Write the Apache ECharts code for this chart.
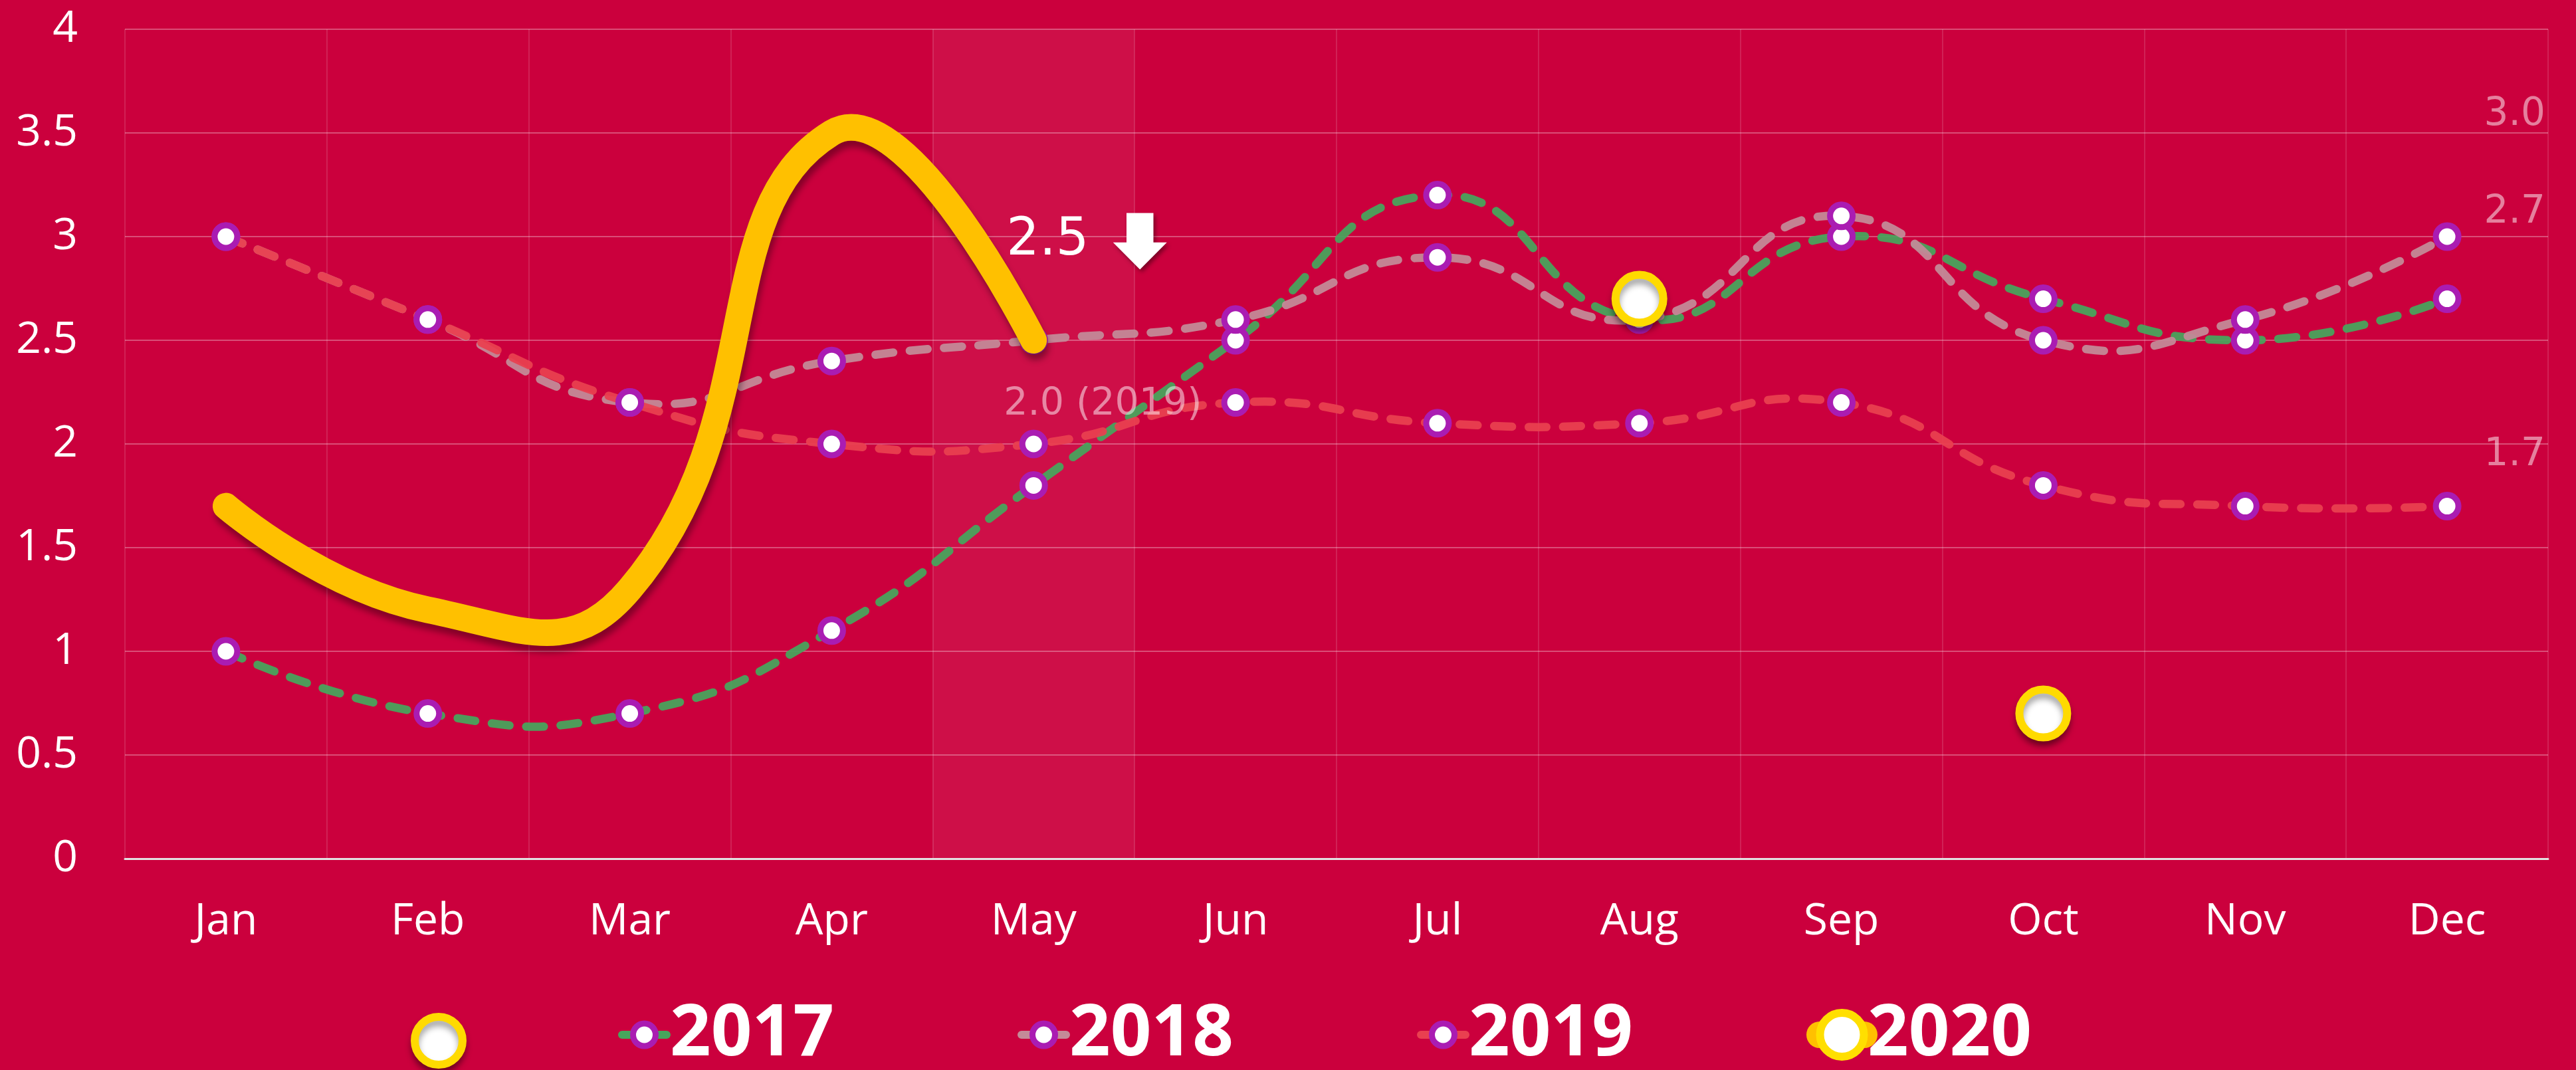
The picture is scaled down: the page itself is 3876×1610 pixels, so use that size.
<!DOCTYPE html>
<html><head><meta charset="utf-8">
<script src="https://cdn.jsdelivr.net/npm/echarts@6/dist/echarts.min.js"></script>
<style>html,body{margin:0;padding:0;background:#CB003D}#c{width:3876px;height:1610px}</style>
</head><body><div id="c"></div>
<script>
const months = ['Jan','Feb','Mar','Apr','May','Jun','Jul','Aug','Sep','Oct','Nov','Dec'];
const s2017 = [1.0, 0.7, 0.7, 1.1, 1.8, 2.5, 3.2, 2.6, 3.0, 2.7, 2.5, 2.7];
const s2018 = [3.0, 2.6, 2.2, 2.4, 2.5, 2.6, 2.9, 2.6, 3.1, 2.5, 2.6, 3.0];
const s2019 = [3.0, 2.6, 2.2, 2.0, 2.0, 2.2, 2.1, 2.1, 2.2, 1.8, 1.7, 1.7];
const s2020 = [1.7, 1.2, 1.3, 3.5, 2.5];
const highlightMonths = ['May'];
const spotMonths = ['Aug', 'Oct'];
const spotValues = [2.7, 0.7];
const yMin = 0, yMax = 4, yStep = 0.5;

const BG = '#CB003D';
const PURPLE = '#AA1CB2';
const AXIS_FONT = 'Open Sans';
const NOTE_FONT = 'DejaVu Sans';
const noteColor = 'rgba(255,255,255,0.5)';
const DASH = [27, 25];
const colors = { '2017': '#47A55C', '2018': '#C48A98', '2019': '#E94050', '2020': '#FFC000' };
const SMOOTH = 0.5;

// smooth bezier path through projected points (control points from neighbours)
function smoothPath(pts, smooth) {
  const n = pts.length;
  const cps = [];
  for (let i = 0; i < n; i++) {
    const p = pts[i];
    if (i === 0 || i === n - 1) { cps.push([p[0], p[1]]); continue; }
    const prev = pts[i - 1], next = pts[i + 1];
    const vx = (next[0] - prev[0]) * smooth, vy = (next[1] - prev[1]) * smooth;
    let d0 = Math.hypot(p[0] - prev[0], p[1] - prev[1]);
    let d1 = Math.hypot(p[0] - next[0], p[1] - next[1]);
    const sum = d0 + d1;
    if (sum) { d0 /= sum; d1 /= sum; }
    cps.push([p[0] - vx * d0, p[1] - vy * d0]);
    cps.push([p[0] + vx * d1, p[1] + vy * d1]);
  }
  let d = 'M' + pts[0][0] + ' ' + pts[0][1];
  for (let i = 0; i < n - 1; i++) {
    const a = cps[2 * i], b = cps[2 * i + 1], p = pts[i + 1];
    d += ' C' + a[0] + ' ' + a[1] + ' ' + b[0] + ' ' + b[1] + ' ' + p[0] + ' ' + p[1];
  }
  return d;
}

function curveSeries(name, values, style, z) {
  return {
    name: name + ' curve', type: 'custom', z, silent: true,
    data: values.map((v, i) => [i, v]),
    encode: { x: 0, y: 1 },
    renderItem: (params, api) => {
      if (params.dataIndex !== 0) return null;
      const pts = values.map((v, i) => api.coord([i, v]));
      return { type: 'path', shape: { pathData: smoothPath(pts, SMOOTH) },
               style: Object.assign({ fill: 'none' }, style) };
    }
  };
}

function endNote(offsetY) {
  return { show: true, position: 'right', offset: [29, offsetY], color: noteColor,
    fontSize: 58, fontFamily: NOTE_FONT, formatter: p => p.value.toFixed(1) };
}

function markerSeries(name, values, endOffsetY, extra) {
  const data = values.map((v, i) => {
    const item = { value: v };
    if (i === values.length - 1) item.label = endNote(endOffsetY);
    if (extra && extra[months[i]]) item.label = extra[months[i]];
    return item;
  });
  return {
    name, type: 'line', data, z: 3,
    symbol: 'circle', symbolSize: 34, showSymbol: true,
    itemStyle: { color: '#fff', borderColor: PURPLE, borderWidth: 9 },
    lineStyle: { width: 0, color: colors[name] },
    emphasis: { disabled: true }
  };
}

const dashStyle = c => ({ stroke: c, lineWidth: 12.5, lineDash: DASH, lineCap: 'round', opacity: 0.94 });
const legendLine = name => ({ color: colors[name], width: 12, type: DASH, cap: 'round', opacity: 1 });

const bandData = months.map(m => highlightMonths.includes(m) ? yMax : null);

const option = {
  backgroundColor: BG,
  animation: false,
  grid: { left: 188, right: 42, top: 44, bottom: 318 },
  xAxis: {
    type: 'category', data: months, boundaryGap: true,
    axisLine: { lineStyle: { color: '#E2E2E2', width: 3 } },
    axisTick: { show: false },
    axisLabel: { color: '#fff', fontSize: 66, fontFamily: AXIS_FONT, margin: 62 },
    splitLine: { show: true, lineStyle: { color: 'rgba(255,255,255,0.13)', width: 2 } }
  },
  yAxis: {
    type: 'value', min: yMin, max: yMax, interval: yStep,
    axisLine: { show: false }, axisTick: { show: false },
    axisLabel: { color: '#fff', fontSize: 66, fontFamily: AXIS_FONT, margin: 71 },
    splitLine: { lineStyle: { color: 'rgba(255,255,255,0.3)', width: 2 } }
  },
  legend: [
    { data: [' '], left: 613, top: 1519, itemWidth: 72, itemHeight: 72, selectedMode: false,
      textStyle: { fontSize: 10, color: '#fff' },
      itemStyle: { borderWidth: 'inherit', opacity: 1, shadowBlur: 10, shadowColor: 'rgba(0,0,0,0.35)', shadowOffsetY: 8 } },
    { data: ['2017', '2018', '2019'].map(n => ({ name: n, lineStyle: legendLine(n) })),
      left: 925, top: 1498, itemWidth: 67, itemHeight: 42.5, itemGap: 276,
      selectedMode: false,
      textStyle: { fontSize: 108, fontWeight: 'bold', color: '#fff', fontFamily: AXIS_FONT },
      itemStyle: { borderWidth: 'inherit' } },
    { data: [{ name: '2020', lineStyle: { color: colors['2020'], width: 40, type: 'solid', cap: 'round', opacity: 1 } }],
      left: 2713, top: 1498, itemWidth: 67, itemHeight: 82.5, selectedMode: false,
      textStyle: { fontSize: 108, fontWeight: 'bold', color: '#fff', fontFamily: AXIS_FONT },
      itemStyle: { borderWidth: 'inherit' } }
  ],
  series: [
    { name: 'band', type: 'bar', data: bandData, barWidth: '100%', silent: true, z: 1,
      itemStyle: { color: 'rgba(255,255,255,0.06)' }, emphasis: { disabled: true } },
    curveSeries('2017', s2017, dashStyle(colors['2017']), 2),
    curveSeries('2018', s2018, dashStyle(colors['2018']), 2),
    curveSeries('2019', s2019, dashStyle(colors['2019']), 2),
    markerSeries('2017', s2017, -130),
    markerSeries('2018', s2018, -183),
    markerSeries('2019', s2019, -77, {
      May: { show: true, position: 'inside', align: 'left', offset: [-45, -59], color: noteColor,
        fontSize: 57, fontFamily: NOTE_FONT,
        formatter: p => p.value.toFixed(1) + ' (' + p.seriesName + ')' }
    }),
    curveSeries('2020', s2020, { stroke: colors['2020'], lineWidth: 40, lineCap: 'round', lineJoin: 'round',
      shadowColor: 'rgba(0,0,0,0.35)', shadowBlur: 10, shadowOffsetX: 3, shadowOffsetY: 10 }, 4),
    { name: '2020', type: 'line', data: s2020, z: 4,
      symbol: 'circle', symbolSize: 66, showSymbol: false,
      itemStyle: { color: '#fff', borderColor: '#FFDF00', borderWidth: 12 },
      lineStyle: { width: 0, color: colors['2020'] },
      endLabel: { show: true, distance: 8, offset: [-49, -149], fontSize: 78, color: '#fff', fontFamily: NOTE_FONT,
        formatter: p => p.value.toFixed(1) },
      markPoint: {
        silent: true, z: 6,
        data: [{ coord: [highlightMonths[0], s2020[s2020.length - 1]] }],
        symbol: 'path://M25,0 L75,0 L75,52 L100,52 L50,100 L0,52 L25,52 Z',
        symbolKeepAspect: false, symbolSize: [81, 85], symbolOffset: [160, -149],
        itemStyle: { color: '#fff', shadowColor: 'rgba(0,0,0,0.4)', shadowBlur: 6, shadowOffsetX: 3, shadowOffsetY: 4 },
        label: { show: false }
      },
      emphasis: { disabled: true } },
    { name: ' ', type: 'scatter', z: 5,
      data: spotMonths.map((m, i) => [m, spotValues[i]]),
      symbol: 'circle', symbolSize: 72,
      itemStyle: { color: '#fff', opacity: 1, borderColor: '#FFDA00', borderWidth: 12,
        shadowColor: 'rgba(0,0,0,0.35)', shadowBlur: 10, shadowOffsetY: 8 },
      emphasis: { disabled: true } }
  ]
};

const chart = echarts.init(document.getElementById('c'), null, { renderer: 'canvas' });
chart.setOption(option);
</script>
</body></html>
